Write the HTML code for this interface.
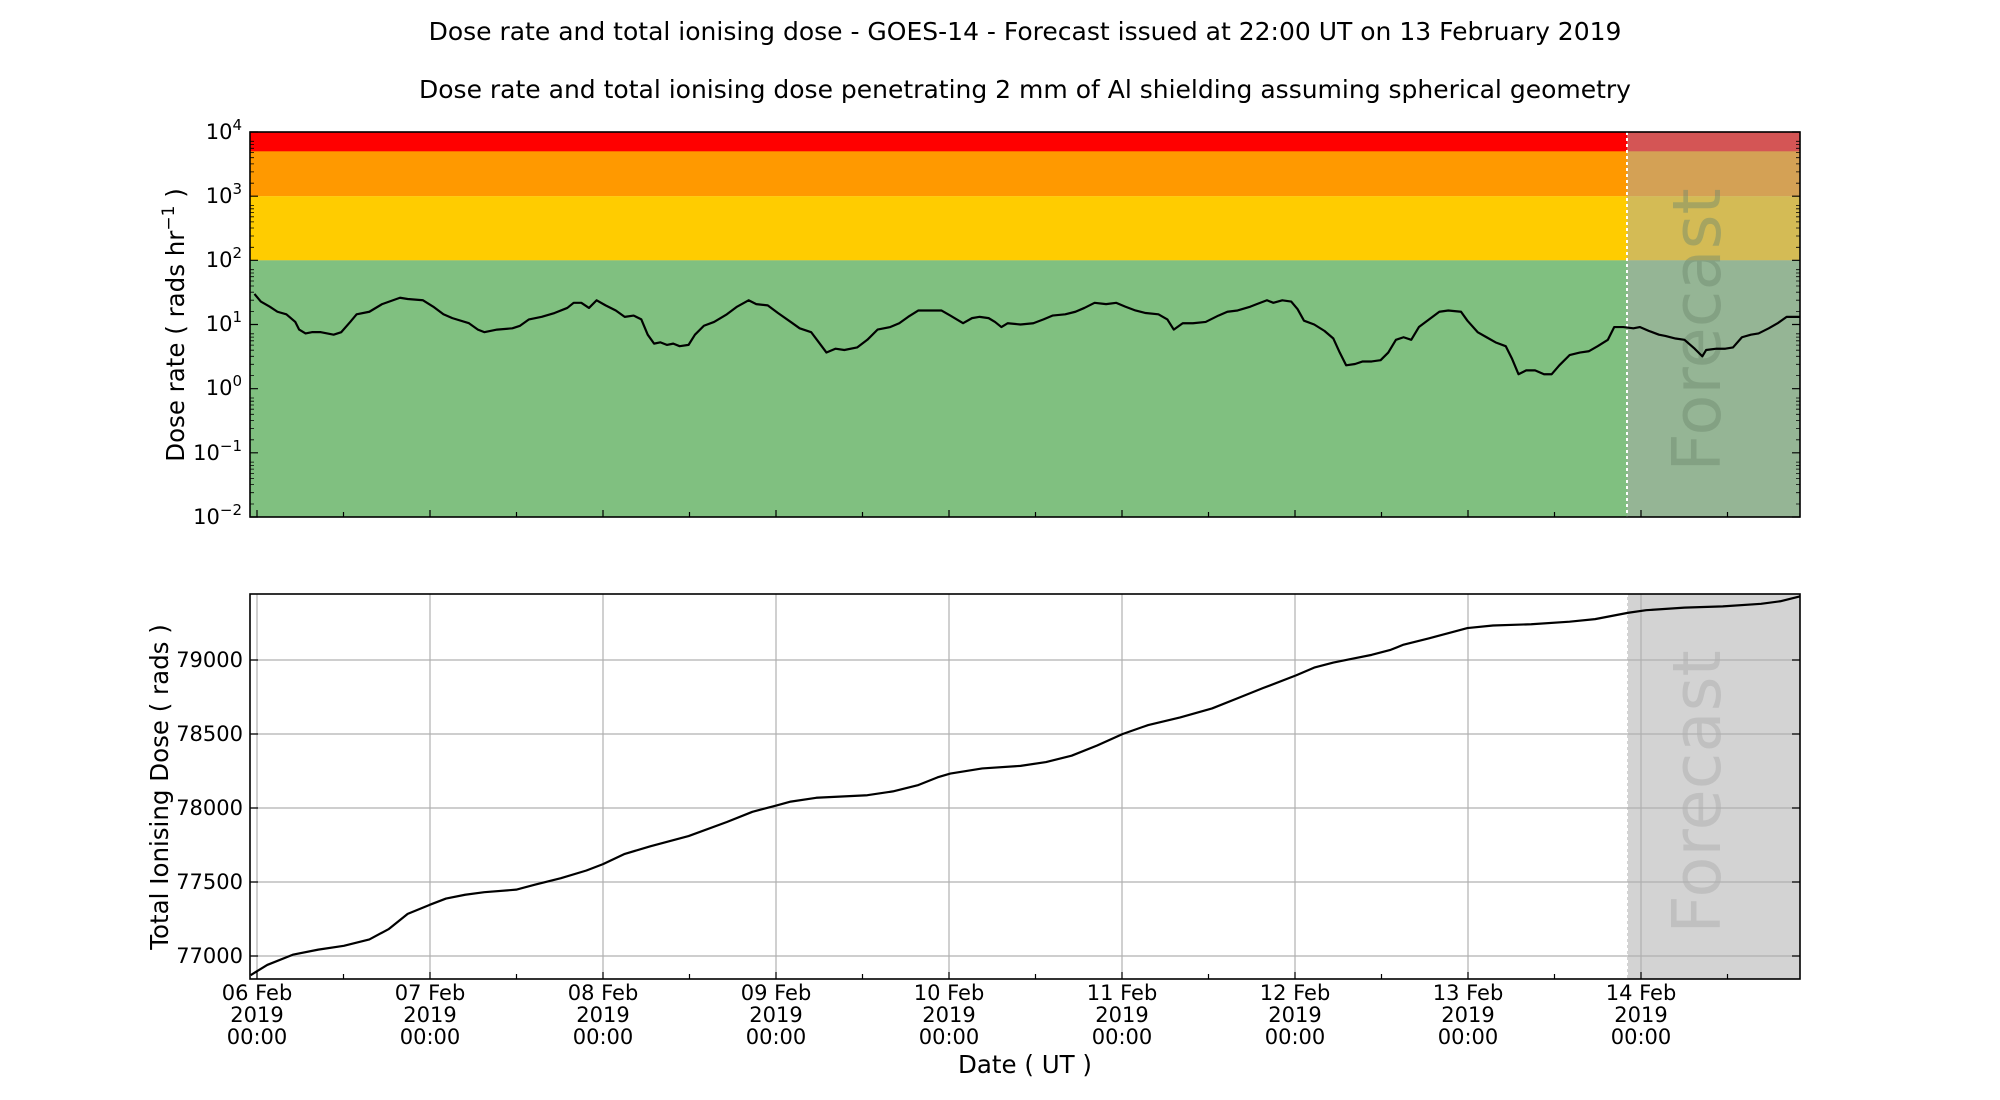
<!DOCTYPE html>
<html><head><meta charset="utf-8"><style>html,body{margin:0;padding:0;background:#fff}svg{display:block}</style></head>
<body>
<svg width="2000" height="1100" viewBox="0 0 2000 1100" xmlns="http://www.w3.org/2000/svg" font-family="DejaVu Sans, Liberation Sans, sans-serif">
<defs>
<clipPath id="c1"><rect x="250" y="132" width="1550" height="385"/></clipPath>
<clipPath id="c2"><rect x="250" y="594" width="1550" height="385"/></clipPath>
</defs>
<text x="1025" y="40" font-size="25" text-anchor="middle">Dose rate and total ionising dose - GOES-14 - Forecast issued at 22:00 UT on 13 February 2019</text>
<text x="1025" y="98" font-size="25" text-anchor="middle">Dose rate and total ionising dose penetrating 2 mm of Al shielding assuming spherical geometry</text>

<rect x="250" y="132" width="1550" height="20" fill="#ff0000"/>
<rect x="250" y="151.3" width="1550" height="45" fill="#ff9900"/>
<rect x="250" y="196.2" width="1550" height="64.2" fill="#ffcc00"/>
<rect x="250" y="260.3" width="1550" height="257" fill="#80c080"/>
<rect x="1627" y="132" width="173" height="385" fill="#a9a9a9" opacity="0.5"/>
<line x1="1627" y1="132" x2="1627" y2="517" stroke="#fff" stroke-width="2" stroke-dasharray="3,3"/>
<text transform="translate(1720,330) rotate(-90)" font-size="67" text-anchor="middle" fill="#6f8a6f" opacity="0.45">Forecast</text>
<g clip-path="url(#c1)">
<polyline transform="matrix(1.2768 0 0 1.2748 -0.9 0.7)" vector-effect="non-scaling-stroke" fill="none" stroke="#000" stroke-width="2.2" stroke-linejoin="round" points="200,230 205,236 212,240 218,244 225,246 232,252 235,258 240,261 245,260 252,260 262,262 268,260 275,252 280,246 290,244 300,238 314,233 320,234 332,235 340,240 348,246 355,249 368,253 375,258 380,260 390,258 402,257 408,255 415,250 425,248 435,245 445,241 450,237 456,237 462,241 468,235 475,239 483,243 490,248 497,247 503,250 508,262 513,269 518,268 523,270 528,269 533,271 540,270 545,262 552,255 560,252 570,246 578,240 587,235 593,238 602,239 610,245 620,252 627,257 636,260 642,268 648,276 655,273 662,274 672,272 680,266 688,258 698,256 705,253 712,248 720,243 730,243 738,243 745,247 755,253 762,249 768,248 775,249 780,252 785,256 790,253 800,254 810,253 818,250 825,247 835,246 843,244 850,241 858,237 867,238 875,237 882,240 890,243 898,245 908,246 915,250 920,258 927,253 935,253 945,252 955,247 962,244 970,243 980,240 985,238 993,235 998,237 1005,235 1012,236 1017,242 1022,251 1030,254 1038,259 1045,265 1050,276 1055,286 1062,285 1068,283 1075,283 1082,282 1088,276 1094,266 1100,264 1106,266 1112,256 1120,250 1128,244 1135,243 1145,244 1150,251 1158,260 1165,264 1172,268 1180,271 1185,281 1190,293 1196,290 1203,290 1210,293 1216,293 1222,286 1230,278 1238,276 1245,275 1252,271 1260,266 1265,256 1272,256 1280,257 1285,256 1292,259 1300,262 1305,263 1313,265 1320,266 1328,273 1334,279 1337,274 1345,273 1352,273 1358,272 1365,264 1372,262 1378,261 1386,257 1393,253 1400,248 1411,248"/>
</g>
<rect x="250" y="132" width="1550" height="385" fill="none" stroke="#000" stroke-width="1.6"/>
<g stroke="#000" stroke-width="1.2">
<path d="M250,132h8M250,196.2h8M250,260.3h8M250,324.5h8M250,388.7h8M250,452.8h8M250,517h8M1800,132h-8M1800,196.2h-8M1800,260.3h-8M1800,324.5h-8M1800,388.7h-8M1800,452.8h-8M1800,517h-8"/>
<path stroke-width="0.8" d="M250,183.2h4M250,171.9h4M250,163.9h4M250,157.7h4M250,152.6h4M250,148.3h4M250,144.6h4M250,141.3h4M250,247.3h4M250,236h4M250,228h4M250,221.9h4M250,216.8h4M250,212.5h4M250,208.8h4M250,205.5h4M250,311.5h4M250,300.2h4M250,292.2h4M250,286h4M250,281h4M250,276.7h4M250,273h4M250,269.7h4M250,375.6h4M250,364.3h4M250,356.3h4M250,350.2h4M250,345.1h4M250,340.8h4M250,337.1h4M250,333.8h4M250,439.8h4M250,428.5h4M250,420.5h4M250,414.3h4M250,409.2h4M250,405h4M250,401.2h4M250,398h4M250,504h4M250,492.7h4M250,484.6h4M250,478.4h4M250,473.4h4M250,469.1h4M250,465.4h4M250,462.1h4
M1800,183.2h-4M1800,171.9h-4M1800,163.9h-4M1800,157.7h-4M1800,152.6h-4M1800,148.3h-4M1800,144.6h-4M1800,141.3h-4M1800,247.3h-4M1800,236h-4M1800,228h-4M1800,221.9h-4M1800,216.8h-4M1800,212.5h-4M1800,208.8h-4M1800,205.5h-4M1800,311.5h-4M1800,300.2h-4M1800,292.2h-4M1800,286h-4M1800,281h-4M1800,276.7h-4M1800,273h-4M1800,269.7h-4M1800,375.6h-4M1800,364.3h-4M1800,356.3h-4M1800,350.2h-4M1800,345.1h-4M1800,340.8h-4M1800,337.1h-4M1800,333.8h-4M1800,439.8h-4M1800,428.5h-4M1800,420.5h-4M1800,414.3h-4M1800,409.2h-4M1800,405h-4M1800,401.2h-4M1800,398h-4M1800,504h-4M1800,492.7h-4M1800,484.6h-4M1800,478.4h-4M1800,473.4h-4M1800,469.1h-4M1800,465.4h-4M1800,462.1h-4"/>
<path d="M257,517v-7M343.5,517v-5M430,517v-7M516.5,517v-5M603,517v-7M689.5,517v-5M776,517v-7M862.5,517v-5M949,517v-7M1035.5,517v-5M1122,517v-7M1208.5,517v-5M1295,517v-7M1381.5,517v-5M1468,517v-7M1554.5,517v-5M1641,517v-7M1727.5,517v-5"/>
</g>
<g font-size="21" text-anchor="end">
<text x="242" y="139">10<tspan font-size="15" dy="-9">4</tspan></text>
<text x="242" y="203">10<tspan font-size="15" dy="-9">3</tspan></text>
<text x="242" y="267">10<tspan font-size="15" dy="-9">2</tspan></text>
<text x="242" y="331">10<tspan font-size="15" dy="-9">1</tspan></text>
<text x="242" y="395">10<tspan font-size="15" dy="-9">0</tspan></text>
<text x="242" y="460">10<tspan font-size="15" dy="-9">−1</tspan></text>
<text x="242" y="524">10<tspan font-size="15" dy="-9">−2</tspan></text>
</g>
<text transform="translate(184,325) rotate(-90)" font-size="24.5" text-anchor="middle">Dose rate ( rads hr<tspan font-size="17" dy="-10">−1</tspan><tspan dy="10"> )</tspan></text>

<rect x="1627" y="594" width="173" height="385" fill="#d3d3d3"/>
<line x1="1627" y1="594" x2="1627" y2="979" stroke="#fff" stroke-width="2" stroke-dasharray="3,3"/>
<text transform="translate(1720,792) rotate(-90)" font-size="67" text-anchor="middle" fill="#c0c0c0">Forecast</text>
<g stroke="#b0b0b0" stroke-width="1.2">
<path d="M257,594V979M430,594V979M603,594V979M776,594V979M949,594V979M1122,594V979M1295,594V979M1468,594V979M1641,594V979M250,660H1800M250,734H1800M250,808H1800M250,882H1800M250,956H1800"/>
</g>
<g clip-path="url(#c2)">
<polyline transform="matrix(1.2768 0 0 1.276 -0.9 -1)" vector-effect="non-scaling-stroke" fill="none" stroke="#000" stroke-width="2.2" stroke-linejoin="round" points="197,765 210,757 230,749 250,745 270,742 290,737 305,729 320,717 337,710 350,705 365,702 380,700 405,698 420,694 440,689 460,683 473,678 490,670 510,664 540,656 570,645 590,637 609,632 620,629 640,626 680,624 700,621 720,616 735,610 745,607 770,603 800,601 820,598 840,593 860,585 880,576 900,569 925,563 950,556 970,548 990,540 1016,530 1030,524 1045,520 1060,517 1075,514 1090,510 1100,506 1120,501 1135,497 1150,493 1170,491 1200,490 1230,488 1250,486 1276,481 1290,479 1320,477 1350,476 1380,474 1395,472 1411,468"/>
</g>
<rect x="250" y="594" width="1550" height="385" fill="none" stroke="#000" stroke-width="1.6"/>
<g stroke="#000" stroke-width="1.2">
<path d="M250,660h8M250,734h8M250,808h8M250,882h8M250,956h8M1800,660h-8M1800,734h-8M1800,808h-8M1800,882h-8M1800,956h-8"/>
<path d="M257,979v-7M343.5,979v-5M430,979v-7M516.5,979v-5M603,979v-7M689.5,979v-5M776,979v-7M862.5,979v-5M949,979v-7M1035.5,979v-5M1122,979v-7M1208.5,979v-5M1295,979v-7M1381.5,979v-5M1468,979v-7M1554.5,979v-5M1641,979v-7M1727.5,979v-5"/>
</g>
<g font-size="21" text-anchor="end">
<text x="243" y="667">79000</text>
<text x="243" y="741">78500</text>
<text x="243" y="815">78000</text>
<text x="243" y="889">77500</text>
<text x="243" y="963">77000</text>
</g>
<text transform="translate(168,787) rotate(-90)" font-size="24.5" text-anchor="middle">Total Ionising Dose ( rads )</text>
<g font-size="21" text-anchor="middle">
<text x="257" y="1000">06 Feb</text><text x="257" y="1022">2019</text><text x="257" y="1044">00:00</text>
<text x="430" y="1000">07 Feb</text><text x="430" y="1022">2019</text><text x="430" y="1044">00:00</text>
<text x="603" y="1000">08 Feb</text><text x="603" y="1022">2019</text><text x="603" y="1044">00:00</text>
<text x="776" y="1000">09 Feb</text><text x="776" y="1022">2019</text><text x="776" y="1044">00:00</text>
<text x="949" y="1000">10 Feb</text><text x="949" y="1022">2019</text><text x="949" y="1044">00:00</text>
<text x="1122" y="1000">11 Feb</text><text x="1122" y="1022">2019</text><text x="1122" y="1044">00:00</text>
<text x="1295" y="1000">12 Feb</text><text x="1295" y="1022">2019</text><text x="1295" y="1044">00:00</text>
<text x="1468" y="1000">13 Feb</text><text x="1468" y="1022">2019</text><text x="1468" y="1044">00:00</text>
<text x="1641" y="1000">14 Feb</text><text x="1641" y="1022">2019</text><text x="1641" y="1044">00:00</text>
</g>
<text x="1025" y="1073" font-size="24.5" text-anchor="middle">Date ( UT )</text>
</svg>
</body></html>
